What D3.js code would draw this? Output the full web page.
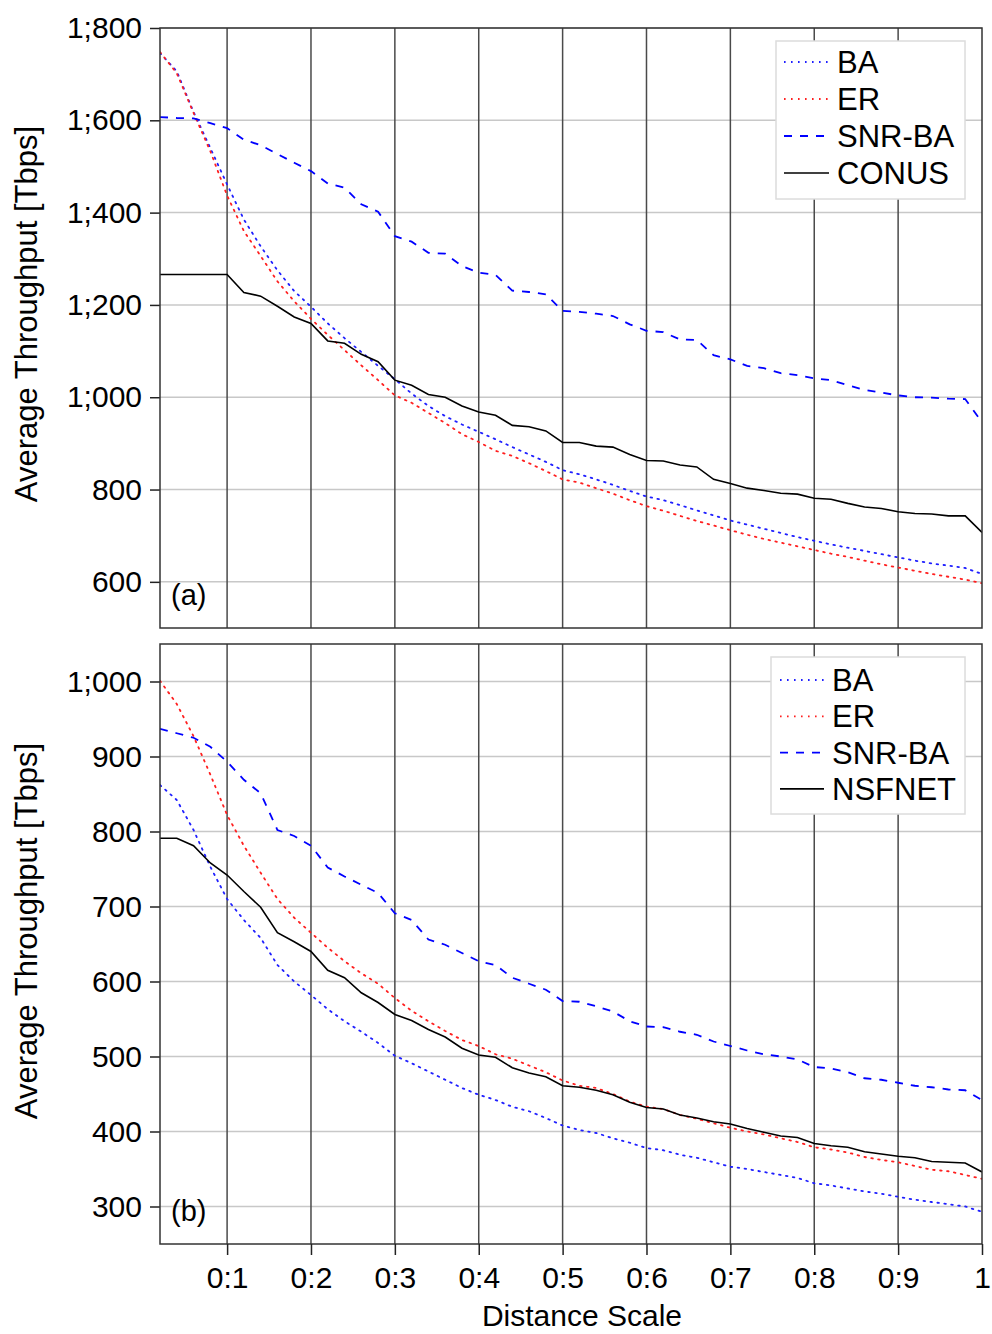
<!DOCTYPE html>
<html>
<head>
<meta charset="utf-8">
<script src="https://cdn.jsdelivr.net/npm/d3@7"></script>
<style>
  body { margin: 0; background: #fff; }
  svg { font-family: "Liberation Sans", Arial, sans-serif; }
</style>
</head>
<body>
<script>
// 数据
var distance = [0.02,0.04,0.06,0.08,0.10,0.12,0.14,0.16,0.18,0.20,
                0.22,0.24,0.26,0.28,0.30,0.32,0.34,0.36,0.38,0.40,
                0.42,0.44,0.46,0.48,0.50,0.52,0.54,0.56,0.58,0.60,
                0.62,0.64,0.66,0.68,0.70,0.72,0.74,0.76,0.78,0.80,
                0.82,0.84,0.86,0.88,0.90,0.92,0.94,0.96,0.98,1.00];

// (a) CONUS
var topBA    = [1746,1706,1618,1540,1461,1385,1327,1275,1230,1196,1160,1128,1098,1068,1039,1008,981,959,941,925,
                909,892,876,860,842,833,822,810,797,785,777,766,755,744,733,724,715,706,697,689,
                681,674,667,660,653,646,640,635,630,617];
var topER    = [1748,1702,1616,1533,1437,1360,1306,1251,1208,1170,1135,1102,1069,1037,1004,988,966,944,920,903,
                884,873,857,840,822,815,803,791,777,764,754,743,732,722,712,702,693,685,677,669,
                661,654,646,638,631,624,617,611,605,597];
var topSNR   = [1607,1605,1604,1594,1583,1558,1546,1527,1508,1490,1463,1454,1418,1402,1349,1337,1313,1311,1284,1270,
                1265,1231,1228,1223,1187,1185,1181,1176,1158,1144,1141,1125,1124,1091,1082,1068,1063,1052,1048,1041,
                1037,1026,1016,1010,1004,1000,999,997,996,946];
var topCONUS = [1266,1266,1266,1266,1266,1227,1219,1197,1174,1160,1122,1117,1093,1077,1037,1026,1006,1000,981,968,
                961,939,936,927,902,902,894,892,876,863,862,853,849,822,813,803,798,792,790,781,
                779,770,762,759,752,748,747,743,743,707];

// (b) NSFNET
var botBA    = [862,842,802,753,710,682,658,622,600,582,563,547,533,518,501,491,480,469,458,449,
                442,433,427,418,408,402,398,391,385,378,375,369,365,359,353,350,346,342,338,331,
                328,324,320,317,313,309,306,303,300,293];
var botER    = [1001,970,927,876,822,781,745,710,685,665,645,627,611,597,578,561,547,534,522,514,
                503,497,488,479,468,461,458,450,440,433,430,422,417,411,405,400,396,391,386,379,
                376,372,366,362,359,354,349,347,342,337];
var botSNR   = [937,931,925,913,893,869,851,802,794,781,752,740,729,718,691,682,656,649,638,627,
                622,605,597,589,574,573,567,560,547,540,539,533,529,520,514,508,503,500,496,486,
                484,479,471,469,465,461,459,456,455,442];
var botNSF   = [791,791,781,758,742,720,699,665,653,640,615,605,585,572,556,548,536,526,511,502,
                499,485,478,473,461,459,455,449,439,432,430,422,418,413,410,404,399,394,392,384,
                381,379,373,370,367,365,360,359,358,346];

var xTicks   = [0.1,0.2,0.3,0.4,0.5,0.6,0.7,0.8,0.9,1];
var topTicks = [600,800,1000,1200,1400,1600,1800];
var botTicks = [300,400,500,600,700,800,900,1000];

// 画布
var width = 992, height = 1334;
var svg = d3.select("body").append("svg")
    .attr("width", width).attr("height", height);

// 奇怪的区域设置：小数点是 ":"，千位分隔符是 ";"
var loc = d3.formatLocale({decimal: ":", thousands: ";", grouping: [3], currency: ["", ""]});

var left = 160, right = 982;
var x = d3.scaleLinear().domain([0.02, 1]).range([left, right]);

var styles = {
  BA:  {color: "#1f1fff", dash: "1.6,5.4", w: 1.8},
  ER:  {color: "#ff1f1f", dash: "1.6,5.4", w: 1.8},
  SNR: {color: "#0000ff", dash: "8,8",     w: 1.8},
  REF: {color: "#000",    dash: null,      w: 1.6}
};

function panel(cfg) {
  var y = d3.scaleLinear().domain(cfg.domain).range([cfg.bottom, cfg.top]);
  var g = svg.append("g");

  // 横网格
  g.append("g").selectAll("line").data(cfg.ticks).enter().append("line")
    .attr("x1", left).attr("x2", right)
    .attr("y1", function(d){ return y(d); }).attr("y2", function(d){ return y(d); })
    .attr("stroke", "#c8c8c8").attr("stroke-width", 1.5);

  // 竖网格
  g.append("g").selectAll("line").data(xTicks.slice(0, -1)).enter().append("line")
    .attr("x1", function(d){ return x(d); }).attr("x2", function(d){ return x(d); })
    .attr("y1", cfg.top).attr("y2", cfg.bottom)
    .attr("stroke", "#4a4a4a").attr("stroke-width", 1.5);

  // y轴
  var yAxis = g.append("g")
    .attr("transform", "translate(" + left + ",0)")
    .call(d3.axisLeft(y).tickValues(cfg.ticks).tickSize(10).tickPadding(8)
      .tickFormat(loc.format(",d")));
  yAxis.select(".domain").remove();
  yAxis.selectAll("line").attr("stroke", "#222").attr("stroke-width", 1.5);
  yAxis.selectAll("text").attr("font-size", 30).attr("fill", "#000")
    .attr("font-family", "Liberation Sans, Arial, sans-serif");

  // 曲线
  var clipId = "clip" + cfg.name;
  svg.append("clipPath").attr("id", clipId).append("rect")
    .attr("x", left).attr("y", cfg.top).attr("width", right - left).attr("height", cfg.bottom - cfg.top);

  var line = d3.line()
    .x(function(d, i){ return x(distance[i]); })
    .y(function(d){ return y(d); });

  var lines = g.append("g").attr("clip-path", "url(#" + clipId + ")");
  cfg.series.forEach(function(s) {
    var st = styles[s.key];
    lines.append("path").datum(s.values)
      .attr("d", line).attr("fill", "none")
      .attr("stroke", st.color).attr("stroke-width", st.w)
      .attr("stroke-dasharray", st.dash)
      .attr("stroke-linecap", st.dash && st.dash.indexOf("1.6") === 0 ? "round" : "butt");
  });

  // 边框
  g.append("rect").attr("x", left).attr("y", cfg.top)
    .attr("width", right - left).attr("height", cfg.bottom - cfg.top)
    .attr("fill", "none").attr("stroke", "#333").attr("stroke-width", 1.5);

  // x轴（只在下图）
  if (cfg.xAxis) {
    var xAxis = g.append("g")
      .attr("transform", "translate(0," + cfg.bottom + ")")
      .call(d3.axisBottom(x).tickValues(xTicks).tickSize(11).tickPadding(12)
        .tickFormat(loc.format(".1~f")));
    xAxis.select(".domain").remove();
    xAxis.selectAll("line").attr("stroke", "#222").attr("stroke-width", 1.5);
    xAxis.selectAll("text").attr("font-size", 30).attr("fill", "#000")
      .attr("font-family", "Liberation Sans, Arial, sans-serif");
  }

  // 面板标记
  g.append("text").attr("x", 171).attr("y", cfg.bottom - 23)
    .attr("font-size", 29).text(cfg.tag);

  // y轴标题
  g.append("text")
    .attr("transform", "translate(37," + cfg.labelY + ") rotate(-90)")
    .attr("text-anchor", "middle").attr("font-size", 31)
    .text("Average Throughput [Tbps]");

  // 图例
  var lg = g.append("g");
  lg.append("rect").attr("x", cfg.legend.x).attr("y", cfg.legend.y)
    .attr("width", cfg.legend.w).attr("height", cfg.legend.h)
    .attr("fill", "#fff").attr("stroke", "#dcdcdc").attr("stroke-width", 1.5);
  cfg.series.forEach(function(s, i) {
    var st = styles[s.key];
    var cy = cfg.legend.row0 + i * cfg.legend.step;
    lg.append("line")
      .attr("x1", cfg.legend.lx1).attr("x2", cfg.legend.lx2)
      .attr("y1", cy).attr("y2", cy)
      .attr("stroke", st.color).attr("stroke-width", st.w)
      .attr("stroke-dasharray", st.dash);
    lg.append("text").attr("x", cfg.legend.tx).attr("y", cy + 11)
      .attr("font-size", 31).text(s.name);
  });
}

panel({
  name: "a", top: 28, bottom: 628, domain: [500, 1800], ticks: topTicks, tag: "(a)", labelY: 314,
  series: [
    {key: "BA",  name: "BA",     values: topBA},
    {key: "ER",  name: "ER",     values: topER},
    {key: "SNR", name: "SNR-BA", values: topSNR},
    {key: "REF", name: "CONUS",  values: topCONUS}
  ],
  legend: {x: 776, y: 41, w: 189, h: 158, row0: 62, step: 37, lx1: 784, lx2: 829, tx: 837}
});

panel({
  name: "b", top: 644, bottom: 1244, domain: [250, 1050], ticks: botTicks, tag: "(b)", labelY: 931, xAxis: true,
  series: [
    {key: "BA",  name: "BA",     values: botBA},
    {key: "ER",  name: "ER",     values: botER},
    {key: "SNR", name: "SNR-BA", values: botSNR},
    {key: "REF", name: "NSFNET", values: botNSF}
  ],
  legend: {x: 771, y: 657, w: 194, h: 157, row0: 680, step: 36.3, lx1: 780, lx2: 824, tx: 832}
});

// x轴标题
svg.append("text").attr("x", 582).attr("y", 1326)
  .attr("text-anchor", "middle").attr("font-size", 30)
  .text("Distance Scale");
</script>
</body>
</html>
